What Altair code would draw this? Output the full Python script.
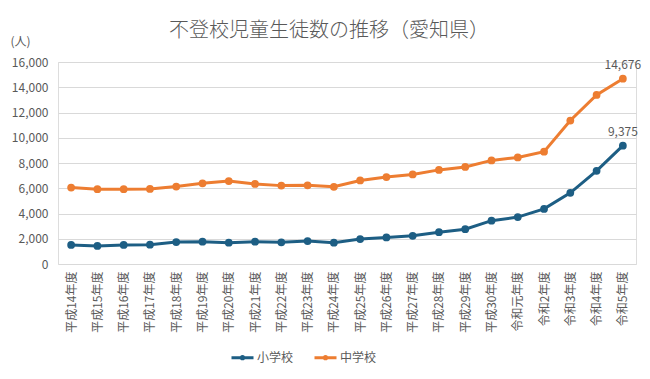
import altair as alt
import pandas as pd

years = ["平成14年度", "平成15年度", "平成16年度", "平成17年度", "平成18年度", "平成19年度",
         "平成20年度", "平成21年度", "平成22年度", "平成23年度", "平成24年度", "平成25年度",
         "平成26年度", "平成27年度", "平成28年度", "平成29年度", "平成30年度", "令和元年度",
         "令和2年度", "令和3年度", "令和4年度", "令和5年度"]
elementary = [1506, 1428, 1506, 1532, 1740, 1766, 1688, 1766, 1714, 1818, 1688, 1974,
              2104, 2234, 2520, 2754, 3430, 3716, 4365, 5636, 7377, 9375]
junior = [6052, 5922, 5922, 5948, 6130, 6390, 6572, 6338, 6208, 6234, 6115, 6620,
          6883, 7091, 7454, 7688, 8207, 8441, 8900, 11364, 13390, 14676]
series = ["小学校", "中学校"]
colors = ["#1D5E84", "#ED7D31"]
y_ticks = [0, 2000, 4000, 6000, 8000, 10000, 12000, 14000, 16000]

rows = []
for i, y in enumerate(years):
    rows.append({"年度": y, "区分": series[0], "人数": elementary[i], "last": i == len(years) - 1})
    rows.append({"年度": y, "区分": series[1], "人数": junior[i], "last": i == len(years) - 1})
df = pd.DataFrame(rows)

FONT = "Noto Sans CJK JP"
GRAY = "#595959"
legend_path = "M-1,0H1M0.1,0A0.1,0.1,0,1,1,-0.1,0A0.1,0.1,0,1,1,0.1,0"

x = alt.X("年度:N", sort=years, title=None,
          scale=alt.Scale(paddingInner=0, paddingOuter=0.5),
          axis=alt.Axis(labelAngle=-90, labelFontSize=12, labelColor=GRAY, labelFont=FONT,
                        ticks=False, domain=False, labelPadding=7, grid=False))
y = alt.Y("人数:Q", scale=alt.Scale(domain=[0, 16000]), title="(人)",
          axis=alt.Axis(values=y_ticks, format=",.0f", labelFontSize=12,
                        labelColor=GRAY, labelFont=FONT, ticks=False, domain=False,
                        labelOverlap=False, tickCount=9,
                        gridColor="#D9D9D9", gridWidth=1, labelPadding=10,
                        titleAngle=0, titleAlign="left", titleBaseline="middle",
                        titleX=-48, titleY=-21, titleFont=FONT, titleFontSize=12,
                        titleFontWeight="normal", titleColor=GRAY))
color = alt.Color("区分:N", scale=alt.Scale(domain=series, range=colors), title=None,
                  legend=alt.Legend(orient="none", direction="horizontal", legendX=172,
                                    legendY=283, symbolType=legend_path, symbolSize=484,
                                    symbolStrokeWidth=3, labelFont=FONT, labelFontSize=12,
                                    labelColor=GRAY, columnPadding=14, labelOffset=2))

line = alt.Chart(df).mark_line(strokeWidth=3, point=alt.OverlayMarkDef(filled=True, size=60)).encode(
    x=x, y=y, color=color)

labels = alt.Chart(df).transform_filter("datum.last").mark_text(
    dy=-14, font=FONT, fontSize=12, color=GRAY).encode(
    x=x, y=y, text=alt.Text("人数:Q", format=",.0f"))

chart = alt.layer(line, labels).properties(
    width=578, height=202,
    autosize=alt.AutoSizeParams(type="none"),
    padding={"left": 50, "top": 54, "right": 6, "bottom": 100},
    title=alt.Title("不登校児童生徒数の推移（愛知県）", font=FONT, fontSize=20,
                    fontWeight=300, color=GRAY, anchor="middle", dx=-18, offset=-6),
).configure_view(stroke=None, strokeWidth=0).configure(background="white")

chart.save("out.html", embed_options={"renderer": "svg", "actions": False})
